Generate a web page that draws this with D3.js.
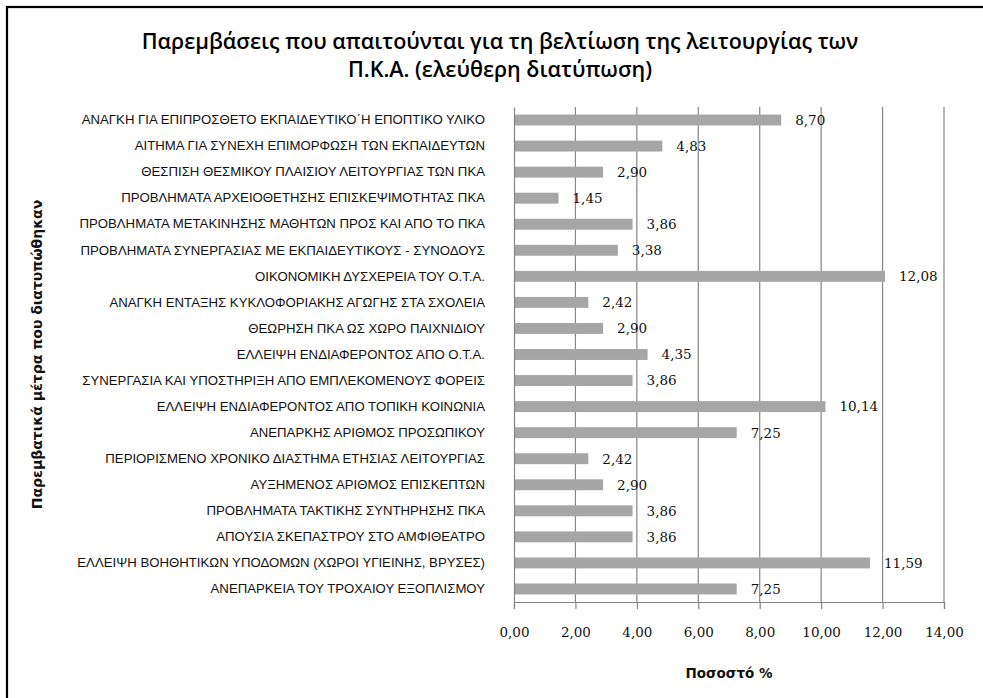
<!DOCTYPE html>
<html>
<head>
<meta charset="utf-8">
<script src="https://cdn.jsdelivr.net/npm/d3@7"></script>
<style>
  body { margin: 0; background: #fff; }
  svg { display: block; }
</style>
</head>
<body>
<svg id="chart" width="983" height="698"></svg>
<script>
// values, top to bottom
var categories = [
    "ΑΝΑΓΚΗ ΓΙΑ ΕΠΙΠΡΟΣΘΕΤΟ ΕΚΠΑΙΔΕΥΤΙΚΟ΄Η ΕΠΟΠΤΙΚΟ ΥΛΙΚΟ",
    "ΑΙΤΗΜΑ ΓΙΑ ΣΥΝΕΧΗ ΕΠΙΜΟΡΦΩΣΗ ΤΩΝ ΕΚΠΑΙΔΕΥΤΩΝ",
    "ΘΕΣΠΙΣΗ ΘΕΣΜΙΚΟΥ ΠΛΑΙΣΙΟΥ ΛΕΙΤΟΥΡΓΙΑΣ ΤΩΝ ΠΚΑ",
    "ΠΡΟΒΛΗΜΑΤΑ ΑΡΧΕΙΟΘΕΤΗΣΗΣ ΕΠΙΣΚΕΨΙΜΟΤΗΤΑΣ ΠΚΑ",
    "ΠΡΟΒΛΗΜΑΤΑ ΜΕΤΑΚΙΝΗΣΗΣ ΜΑΘΗΤΩΝ ΠΡΟΣ ΚΑΙ ΑΠΟ ΤΟ ΠΚΑ",
    "ΠΡΟΒΛΗΜΑΤΑ ΣΥΝΕΡΓΑΣΙΑΣ ΜΕ ΕΚΠΑΙΔΕΥΤΙΚΟΥΣ - ΣΥΝΟΔΟΥΣ",
    "ΟΙΚΟΝΟΜΙΚΗ ΔΥΣΧΕΡΕΙΑ ΤΟΥ Ο.Τ.Α.",
    "ΑΝΑΓΚΗ ΕΝΤΑΞΗΣ ΚΥΚΛΟΦΟΡΙΑΚΗΣ ΑΓΩΓΗΣ ΣΤΑ ΣΧΟΛΕΙΑ",
    "ΘΕΩΡΗΣΗ ΠΚΑ ΩΣ ΧΩΡΟ ΠΑΙΧΝΙΔΙΟΥ",
    "ΕΛΛΕΙΨΗ ΕΝΔΙΑΦΕΡΟΝΤΟΣ ΑΠΟ Ο.Τ.Α.",
    "ΣΥΝΕΡΓΑΣΙΑ ΚΑΙ ΥΠΟΣΤΗΡΙΞΗ ΑΠΟ ΕΜΠΛΕΚΟΜΕΝΟΥΣ ΦΟΡΕΙΣ",
    "ΕΛΛΕΙΨΗ ΕΝΔΙΑΦΕΡΟΝΤΟΣ ΑΠΟ ΤΟΠΙΚΗ ΚΟΙΝΩΝΙΑ",
    "ΑΝΕΠΑΡΚΗΣ ΑΡΙΘΜΟΣ ΠΡΟΣΩΠΙΚΟΥ",
    "ΠΕΡΙΟΡΙΣΜΕΝΟ ΧΡΟΝΙΚΟ ΔΙΑΣΤΗΜΑ ΕΤΗΣΙΑΣ ΛΕΙΤΟΥΡΓΙΑΣ",
    "ΑΥΞΗΜΕΝΟΣ ΑΡΙΘΜΟΣ ΕΠΙΣΚΕΠΤΩΝ",
    "ΠΡΟΒΛΗΜΑΤΑ ΤΑΚΤΙΚΗΣ ΣΥΝΤΗΡΗΣΗΣ ΠΚΑ",
    "ΑΠΟΥΣΙΑ ΣΚΕΠΑΣΤΡΟΥ ΣΤΟ ΑΜΦΙΘΕΑΤΡΟ",
    "ΕΛΛΕΙΨΗ ΒΟΗΘΗΤΙΚΩΝ ΥΠΟΔΟΜΩΝ (ΧΩΡΟΙ ΥΓΙΕΙΝΗΣ, ΒΡΥΣΕΣ)",
    "ΑΝΕΠΑΡΚΕΙΑ ΤΟΥ ΤΡΟΧΑΙΟΥ ΕΞΟΠΛΙΣΜΟΥ"
];
var percents = [8.70, 4.83, 2.90, 1.45, 3.86, 3.38, 12.08, 2.42, 2.90, 4.35,
                3.86, 10.14, 7.25, 2.42, 2.90, 3.86, 3.86, 11.59, 7.25];
var xTicks = [0, 2, 4, 6, 8, 10, 12, 14];

var titleLines = ["Παρεμβάσεις που απαιτούνται για τη βελτίωση της λειτουργίας των",
                  "Π.Κ.Α. (ελεύθερη διατύπωση)"];
var yTitle = "Παρεμβατικά μέτρα που διατυπώθηκαν";
var xTitle = "Ποσοστό %";

var data = categories.map(function(c, i) { return { cat: c, val: percents[i] }; });

//////////////////////////////////////////////////////////////////////////////
// layout

var plotLeft = 514, plotRight = 944, plotTop = 107, plotBottom = 602;
var gridColor = "#868686";
var fmt = function(v) { return d3.format(".2f")(v).replace(".", ","); };

var xScale = d3.scaleLinear().domain([0, 14]).range([plotLeft, plotRight]);
var yScale = d3.scaleBand().domain(categories).range([plotTop, plotBottom]).paddingInner(0.58).paddingOuter(0.29);

var svg = d3.select("#chart");

// chart frame (runs off the right and bottom edge)
svg.append("rect")
    .attr("x", 7).attr("y", 7)
    .attr("width", 1000).attr("height", 1000)
    .attr("fill", "none")
    .attr("stroke", "#000")
    .attr("stroke-width", 2.2);

// title
svg.append("g").selectAll("text")
    .data(titleLines).enter().append("text")
    .attr("x", 500)
    .attr("y", function(d, i) { return 49 + i * 28; })
    .attr("text-anchor", "middle")
    .attr("font-family", "'Open Sans', sans-serif")
    .attr("font-size", 21.5)
    .attr("font-weight", 600)
    .attr("fill", "#000")
    .text(function(d) { return d; });

// vertical gridlines
svg.append("g").selectAll("line")
    .data(xTicks.slice(1)).enter().append("line")
    .attr("x1", d => xScale(d)).attr("x2", d => xScale(d))
    .attr("y1", plotTop).attr("y2", plotBottom)
    .attr("stroke", gridColor)
    .attr("stroke-width", 1.2);

// bars
svg.append("g").selectAll("rect")
    .data(data).enter().append("rect")
    .attr("x", xScale(0))
    .attr("y", d => yScale(d.cat))
    .attr("width", d => xScale(d.val) - xScale(0))
    .attr("height", yScale.bandwidth())
    .attr("fill", "#a6a6a6");

// value labels
svg.append("g").selectAll("text")
    .data(data).enter().append("text")
    .attr("x", d => xScale(d.val) + 14)
    .attr("y", d => yScale(d.cat) + yScale.bandwidth() / 2)
    .attr("dy", "0.36em")
    .attr("font-family", "'DejaVu Serif', serif")
    .attr("font-size", 13.5)
    .attr("fill", "#111")
    .text(d => fmt(d.val));

// x axis
var xAxis = d3.axisBottom(xScale).tickValues(xTicks).tickSize(7).tickFormat(fmt).tickPadding(18);
var gx = svg.append("g")
    .attr("transform", "translate(0," + plotBottom + ")")
    .call(xAxis);
gx.select(".domain").attr("stroke", gridColor).attr("stroke-width", 1.2);
gx.selectAll(".tick line").attr("stroke", gridColor).attr("stroke-width", 1.2);
gx.selectAll(".tick text")
    .attr("font-family", "'DejaVu Serif', serif")
    .attr("font-size", 13.5)
    .attr("fill", "#111");

// y axis (category labels)
var yAxis = d3.axisLeft(yScale).tickSize(0).tickPadding(29);
var gy = svg.append("g")
    .attr("transform", "translate(" + plotLeft + ",0)")
    .call(yAxis);
gy.select(".domain").attr("stroke", gridColor).attr("stroke-width", 1.2);
gy.selectAll(".tick text")
    .attr("font-family", "'Liberation Sans', Arial, sans-serif")
    .attr("font-size", 13.2)
    .attr("fill", "#111");

// axis titles
svg.append("text")
    .attr("x", (plotLeft + plotRight) / 2)
    .attr("y", 678)
    .attr("text-anchor", "middle")
    .attr("font-family", "'DejaVu Sans', sans-serif")
    .attr("font-weight", "bold")
    .attr("font-size", 13.5)
    .attr("fill", "#111")
    .text(xTitle);

svg.append("text")
    .attr("transform", "translate(42," + (plotTop + plotBottom) / 2 + ") rotate(-90)")
    .attr("text-anchor", "middle")
    .attr("font-family", "'DejaVu Sans', sans-serif")
    .attr("font-weight", "bold")
    .attr("font-size", 14)
    .attr("fill", "#111")
    .text(yTitle);
</script>
</body>
</html>
